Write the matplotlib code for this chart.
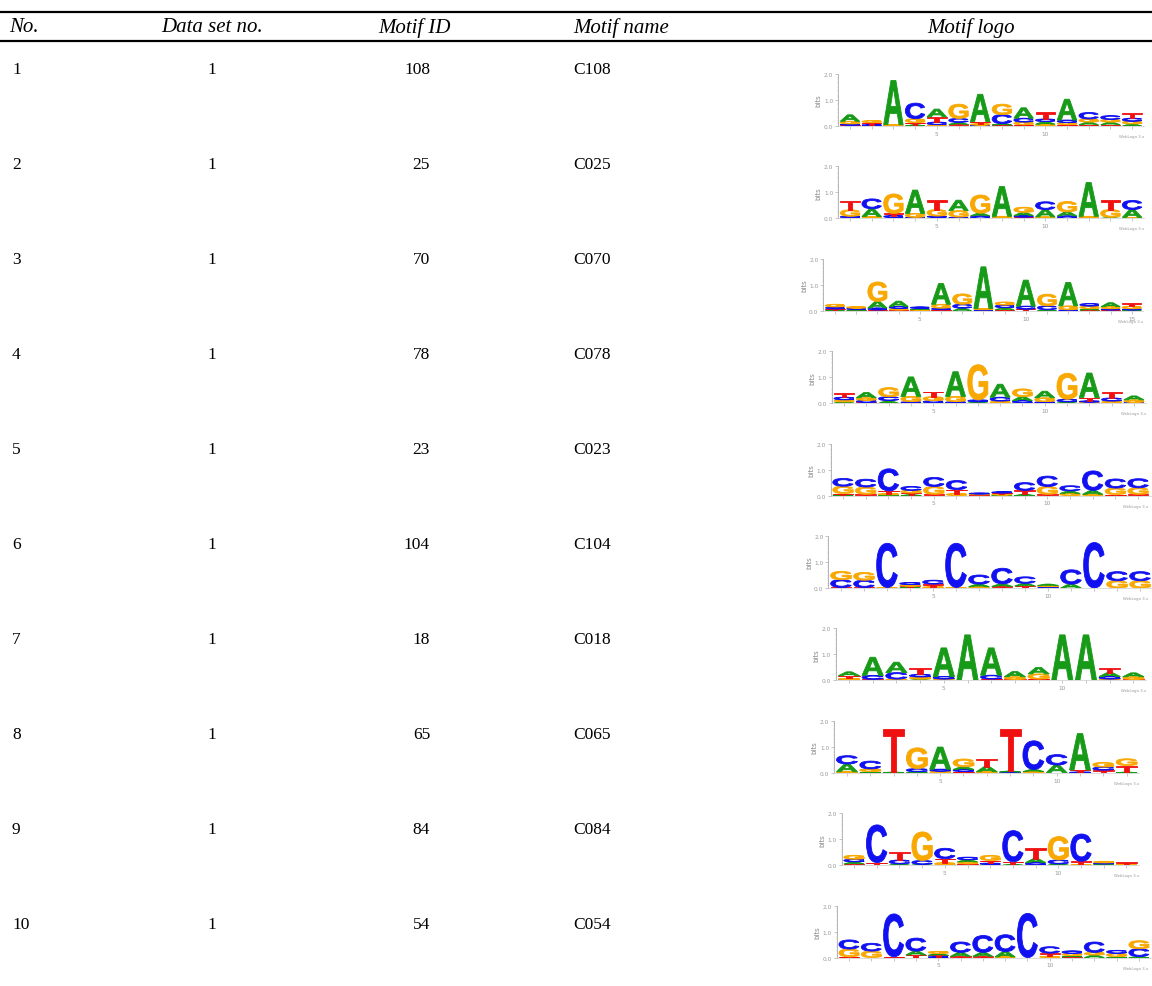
import matplotlib
matplotlib.use('Agg')
import matplotlib.pyplot as plt
from matplotlib.textpath import TextPath
from matplotlib.font_manager import FontProperties
from matplotlib.patches import PathPatch
from matplotlib.path import Path

# table columns
row_no = ['1', '2', '3', '4', '5', '6', '7', '8', '9', '10']
data_set_no = ['1', '1', '1', '1', '1', '1', '1', '1', '1', '1']
motif_ids = ['108', '25', '70', '78', '23', '104', '18', '65', '84', '54']
motif_names = ['C108', 'C025', 'C070', 'C078', 'C023', 'C104', 'C018', 'C065', 'C084', 'C054']

# letter heights (bits) per logo position
m108 = [dict(A=.25, G=.10, C=.05, T=.03), dict(T=.08, G=.08, C=.03, A=.02),
        dict(A=1.70, G=.03, C=.02), dict(C=.60, G=.15, T=.08, A=.05),
        dict(A=.30, T=.20, C=.10, G=.05), dict(G=.55, C=.15, A=.08, T=.06),
        dict(A=1.05, G=.06, T=.08, C=.03), dict(G=.40, C=.35, A=.05, T=.04),
        dict(A=.40, C=.15, G=.10, T=.05), dict(T=.25, A=.10, C=.10, G=.07),
        dict(A=.80, C=.10, G=.08, T=.05), dict(C=.25, G=.12, A=.10, T=.05),
        dict(C=.15, A=.10, G=.10, T=.05), dict(T=.20, C=.12, G=.10, A=.08)]
m025 = [dict(T=.35, G=.25, C=.05, A=.03), dict(C=.38, A=.30, G=.04, T=.03),
        dict(G=.75, C=.08, T=.08, A=.03), dict(A=.90, G=.15, C=.04),
        dict(T=.35, G=.25, C=.05, A=.04), dict(A=.40, G=.25, C=.05),
        dict(G=.70, C=.10, A=.10), dict(A=1.15, G=.05, C=.03),
        dict(G=.20, A=.12, C=.06, T=.05), dict(C=.30, A=.28, G=.06),
        dict(G=.40, A=.15, C=.10), dict(A=1.30, G=.05, C=.03),
        dict(T=.35, G=.30, A=.04), dict(C=.35, A=.30, G=.04)]
m070 = [dict(G=.10, C=.08, T=.04, A=.03), dict(G=.06, C=.05, A=.03, T=.02),
        dict(G=.75, A=.25, C=.08, T=.03), dict(A=.20, C=.08, G=.06, T=.03),
        dict(C=.06, A=.04, G=.03, T=.02), dict(A=.80, G=.15, C=.06, T=.04),
        dict(G=.40, C=.15, A=.10), dict(A=1.60, G=.05, C=.04),
        dict(G=.12, C=.10, A=.08, T=.04), dict(A=1.00, C=.12, T=.06),
        dict(G=.45, C=.15, A=.04), dict(A=.90, G=.15, C=.04),
        dict(G=.10, C=.10, A=.05, T=.03), dict(A=.15, G=.08, C=.05, T=.03),
        dict(T=.12, G=.10, C=.05, A=.03)]
m078 = [dict(T=.15, C=.10, G=.08, A=.05), dict(A=.20, G=.10, C=.08, T=.03),
        dict(G=.35, C=.15, A=.10), dict(A=.75, G=.20, C=.06),
        dict(T=.20, G=.15, C=.10), dict(A=.95, G=.20, C=.06),
        dict(G=1.35, C=.08, A=.05), dict(A=.50, C=.15, G=.08),
        dict(G=.30, A=.15, C=.10), dict(A=.25, G=.15, C=.06),
        dict(G=1.00, C=.10, A=.05), dict(A=.95, T=.12, C=.05, G=.04),
        dict(T=.25, C=.12, G=.08), dict(A=.15, G=.10, C=.03)]
m023 = [dict(C=.30, G=.28, T=.05, A=.03), dict(C=.30, G=.28, T=.05),
        dict(C=.85, T=.10, G=.05, A=.03), dict(C=.15, G=.10, T=.06, A=.04),
        dict(C=.35, G=.30, T=.05), dict(C=.35, T=.15, G=.08),
        dict(C=.04, G=.03, T=.02, A=.01), dict(C=.05, G=.04, T=.04, A=.02),
        dict(C=.30, T=.15, A=.05), dict(C=.40, G=.30, T=.05),
        dict(C=.20, A=.10, G=.08), dict(C=.75, A=.15, G=.05),
        dict(C=.35, G=.25, T=.04), dict(C=.35, G=.25, T=.05)]
m104 = [dict(G=.32, C=.30, T=.02), dict(G=.30, C=.28, T=.02),
        dict(C=1.70, G=.02), dict(C=.08, G=.06, T=.04, A=.03),
        dict(C=.15, T=.10, G=.05), dict(C=1.70, G=.02),
        dict(C=.35, A=.10, G=.05), dict(C=.60, A=.10, T=.06),
        dict(C=.25, A=.10, T=.08), dict(G=.05, A=.05, C=.03, T=.02),
        dict(C=.55, A=.15), dict(C=1.75),
        dict(C=.35, G=.28), dict(C=.35, G=.28)]
m018 = [dict(A=.15, T=.10, G=.05, C=.03), dict(A=.70, C=.15, T=.04),
        dict(A=.40, C=.25, G=.05), dict(T=.25, C=.10, G=.08, A=.05),
        dict(A=1.10, C=.10, G=.05), dict(A=1.75),
        dict(A=1.05, C=.15, T=.05), dict(A=.20, G=.10, T=.04),
        dict(A=.25, G=.20, T=.05), dict(A=1.75), dict(A=1.75),
        dict(T=.17, A=.15, C=.10, G=.05), dict(A=.15, G=.10, T=.04)]
m065 = [dict(C=.32, A=.30, G=.04), dict(C=.30, G=.10, A=.05),
        dict(T=1.65, A=.03), dict(G=.80, C=.12, A=.04),
        dict(A=.85, C=.08, G=.06), dict(G=.30, A=.10, C=.08, T=.05),
        dict(T=.30, A=.20, G=.04), dict(T=1.60, A=.04, C=.03),
        dict(C=1.10, A=.08, G=.05), dict(C=.40, A=.30),
        dict(A=1.40, T=.08, C=.03), dict(G=.18, C=.12, T=.10),
        dict(G=.26, T=.25, A=.03)]
m084 = [dict(G=.15, C=.10, A=.08, T=.05), dict(C=1.45, T=.10),
        dict(T=.30, C=.15, A=.05), dict(G=1.10, C=.15, A=.03),
        dict(C=.40, T=.15, G=.10), dict(C=.10, G=.08, A=.08, T=.05),
        dict(G=.20, T=.10, C=.05, A=.03), dict(C=1.20, T=.10, A=.03),
        dict(T=.40, A=.15, C=.10), dict(G=.90, C=.15, A=.05),
        dict(C=1.05, T=.12, G=.03), dict(G=.06, C=.04, A=.03, T=.02),
        dict(T=.05, G=.04, C=.02)]
m054 = [dict(C=.35, G=.30, T=.03), dict(C=.30, G=.25),
        dict(C=1.65, T=.03), dict(C=.50, A=.15, T=.10),
        dict(G=.08, A=.07, T=.05, C=.04), dict(C=.40, A=.15, T=.05),
        dict(C=.65, A=.15, T=.05), dict(C=.65, A=.20, G=.03),
        dict(C=1.70), dict(C=.25, T=.12, G=.05),
        dict(C=.10, G=.08, A=.05, T=.03), dict(C=.40, A=.10, G=.10),
        dict(G=.12, C=.12, A=.04), dict(G=.31, C=.30, A=.04)]
logos = [m108, m025, m070, m078, m023, m104, m018, m065, m084, m054]

# layout in pixels
W, H = 1152, 987
# centre of first logo column and column step, per row
logo_x0 = [850, 850, 835, 844, 843, 841, 849, 847, 854, 849]
logo_step = [21.7, 21.7, 21.2, 22.3, 22.7, 23.0, 23.7, 23.3, 22.7, 22.3]

colors = {'A': '#179a17', 'C': '#1010f0', 'G': '#f8a800', 'T': '#f01010'}
logo_font = FontProperties(family='Liberation Sans', weight='bold')
glyphs = {b: TextPath((0, 0), b, size=1, prop=logo_font) for b in 'ACGT'}

serif = 'Liberation Serif'
head_fs = 15
cell_fs = 12.5

fig = plt.figure(figsize=(W / 100, H / 100), dpi=100)
bg = fig.add_axes([0, 0, 1, 1])
bg.set_xlim(0, W)
bg.set_ylim(H, 0)
bg.axis('off')

bg.axhline(13, color='black', lw=1.6)
bg.axhline(42, color='black', lw=1.6)

hy = 28
bg.text(9, hy, 'No.', fontsize=head_fs, family=serif, style='italic', ha='left', va='center')
bg.text(212, hy, 'Data set no.', fontsize=head_fs, family=serif, style='italic', ha='center', va='center')
bg.text(414, hy, 'Motif ID', fontsize=head_fs, family=serif, style='italic', ha='center', va='center')
bg.text(573, hy, 'Motif name', fontsize=head_fs, family=serif, style='italic', ha='left', va='center')
bg.text(971, hy, 'Motif logo', fontsize=head_fs, family=serif, style='italic', ha='center', va='center')

for i in range(10):
    y = 70 + 95 * i
    bg.text(12, y, row_no[i], fontsize=cell_fs, family=serif, ha='left', va='center')
    bg.text(212, y, data_set_no[i], fontsize=cell_fs, family=serif, ha='center', va='center')
    bg.text(430, y, motif_ids[i], fontsize=cell_fs, family=serif, ha='right', va='center')
    bg.text(573, y, motif_names[i], fontsize=cell_fs, family=serif, ha='left', va='center')


def draw_letter(ax, base, x, y, h):
    p = glyphs[base]
    ext = p.get_extents()
    v = p.vertices.copy()
    v[:, 0] = (v[:, 0] - ext.x0) / ext.width * 0.9 + x - 0.45
    v[:, 1] = (v[:, 1] - ext.y0) / ext.height * h + y
    ax.add_patch(PathPatch(Path(v, p.codes), fc=colors[base], ec=colors[base], lw=0.6))


for i, logo in enumerate(logos):
    n = len(logo)
    step = logo_step[i]
    base_px = 127 + 92.4 * i
    left = logo_x0[i] - step * 0.55
    width = step * (n + 0.1)
    ax = fig.add_axes([left / W, 1 - base_px / H, width / W, 52 / H])
    ax.set_xlim(0.45, n + 0.55)
    ax.set_ylim(0, 2)
    for j, pos in enumerate(logo):
        y0 = 0
        for base, h in sorted(pos.items(), key=lambda kv: kv[1]):
            draw_letter(ax, base, j + 1, y0, h)
            y0 += h
    for s in ['top', 'right']:
        ax.spines[s].set_visible(False)
    ax.spines['left'].set_color('#999999')
    ax.spines['bottom'].set_color('#cccccc')
    ax.spines['left'].set_linewidth(0.5)
    ax.spines['bottom'].set_linewidth(0.5)
    ax.set_yticks([0, 1, 2])
    ax.set_yticklabels(['0.0', '1.0', '2.0'])
    ax.set_yticks([k / 10 for k in range(21)], minor=True)
    ax.set_xticks(range(1, n + 1))
    ax.set_xticklabels([str(k) if k % 5 == 0 else '' for k in range(1, n + 1)])
    ax.tick_params(labelsize=4.2, colors='#999999', length=2, width=0.4, pad=1.5)
    ax.tick_params(which='minor', length=1, width=0.3, colors='#bbbbbb')
    ax.set_ylabel('bits', fontsize=5, color='#888888', labelpad=1.5)
    # keep the credit line inside the picture
    right_px = min(left + width, W - 4)
    fig.text(right_px / W, 1 - (base_px + 8) / H, 'WebLogo 3.x', fontsize=2.8,
             color='#999999', ha='right', va='top')

fig.savefig('out.png', dpi=100)
